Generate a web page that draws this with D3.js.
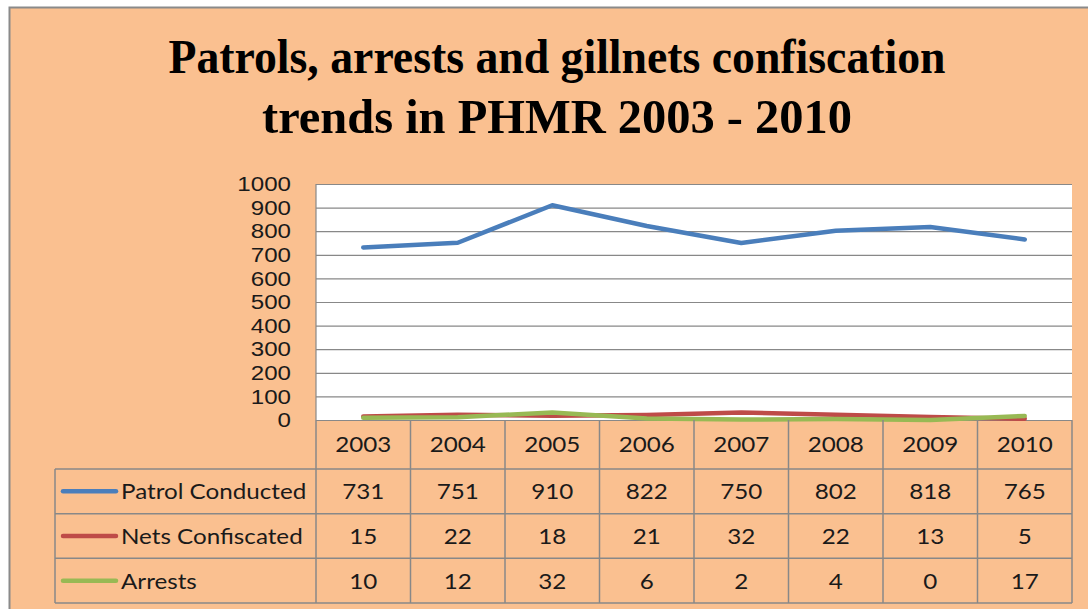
<!DOCTYPE html>
<html lang="en">
<head>
	<meta charset="utf-8">
	<title>Patrols, arrests and gillnets confiscation trends in PHMR 2003 - 2010</title>
	<script src="https://d3js.org/d3.v7.min.js"></script>
	<style>
		html, body {
			margin: 0;
			padding: 0;
			background: #fff;
		}
		svg text {
			font-family: "Lato", sans-serif;
			fill: #1a1a1a;
		}
		.title {
			font-family: "Liberation Serif", serif !important;
			font-weight: bold;
			fill: #000;
		}
	</style>
</head>
<body>
	<svg></svg>
	<script>
		// data
		var years = ["2003", "2004", "2005", "2006", "2007", "2008", "2009", "2010"];
		var patrol = [731, 751, 910, 822, 750, 802, 818, 765];
		var nets = [15, 22, 18, 21, 32, 22, 13, 5];
		var arrests = [10, 12, 32, 6, 2, 4, 0, 17];
		var seriesNames = ["Patrol Conducted", "Nets Confiscated", "Arrests"];
		var seriesColors = ["#4a7ebb", "#be4b48", "#98b954"];
		var yTicks = [0, 100, 200, 300, 400, 500, 600, 700, 800, 900, 1000];

		var width = 1088,
			height = 609;

		var svg = d3.select("svg")
			.attr("width", width)
			.attr("height", height);

		var plot = { left: 316, right: 1072, top: 184, bottom: 420 };
		var tableLeft = 55;
		var gridColor = "#888";
		var stretch = "scale(1.1,1)"; // the original text is a bit wide

		// chart box
		svg.append("rect")
			.attr("x", 9.5)
			.attr("y", 7.5)
			.attr("width", 1100)
			.attr("height", 620)
			.attr("fill", "#fac090")
			.attr("stroke", "#8a8a8a")
			.attr("stroke-width", 2);

		// title
		var title = svg.append("g");
		title.append("text")
			.attr("class", "title")
			.attr("x", 557)
			.attr("y", 73)
			.attr("text-anchor", "middle")
			.attr("font-size", 49)
			.attr("textLength", 777)
			.attr("lengthAdjust", "spacingAndGlyphs")
			.text("Patrols, arrests and gillnets confiscation");
		title.append("text")
			.attr("class", "title")
			.attr("x", 557)
			.attr("y", 133)
			.attr("text-anchor", "middle")
			.attr("font-size", 49)
			.attr("textLength", 590)
			.attr("lengthAdjust", "spacingAndGlyphs")
			.text("trends in PHMR 2003 - 2010");

		var x = d3.scaleBand()
			.domain(years)
			.range([plot.left, plot.right]);

		var y = d3.scaleLinear()
			.domain([0, 1000])
			.range([plot.bottom, plot.top]);

		// plot area
		svg.append("rect")
			.attr("x", plot.left)
			.attr("y", plot.top)
			.attr("width", plot.right - plot.left)
			.attr("height", plot.bottom - plot.top)
			.attr("fill", "#fff");

		// gridlines
		svg.append("g")
			.attr("transform", "translate(" + plot.left + ",0)")
			.call(d3.axisRight(y).tickValues(yTicks).tickSize(plot.right - plot.left).tickFormat(""))
			.call(function(g) { g.select(".domain").remove(); })
			.selectAll("line")
			.attr("stroke", gridColor)
			.attr("stroke-width", 1.2);

		svg.append("line")
			.attr("x1", plot.left).attr("x2", plot.left)
			.attr("y1", plot.top).attr("y2", plot.bottom)
			.attr("stroke", gridColor)
			.attr("stroke-width", 1.2);

		// y labels
		var yAxis = svg.append("g")
			.attr("transform", "translate(291,0)")
			.call(d3.axisLeft(y).tickValues(yTicks).tickSize(0).tickPadding(0).tickFormat(d3.format("d")));
		yAxis.select(".domain").remove();
		yAxis.selectAll("text")
			.attr("font-size", 21)
			.attr("fill", "#1a1a1a")
			.attr("transform", "scale(1.15,1)")
			.style("font-family", "'Liberation Sans', sans-serif");

		// lines
		var allSeries = [patrol, nets, arrests];
		var line = d3.line()
			.x(function(d, i) { return x(years[i]) + x.bandwidth() / 2; })
			.y(function(d) { return y(d); });

		svg.append("g")
			.selectAll("path")
			.data(allSeries)
			.enter().append("path")
			.attr("d", line)
			.attr("fill", "none")
			.attr("stroke", function(d, i) { return seriesColors[i]; })
			.attr("stroke-width", 4.5)
			.attr("stroke-linejoin", "round")
			.attr("stroke-linecap", "round");

		// data table
		var table = svg.append("g");
		var headerBottom = 469;
		var tableBottom = 603;

		function rowTop(r) {
			return headerBottom + r * (tableBottom - headerBottom) / 3;
		}

		// horizontal lines
		[0, 1, 2, 3].forEach(function(r) {
			table.append("line")
				.attr("x1", tableLeft).attr("x2", plot.right)
				.attr("y1", rowTop(r)).attr("y2", rowTop(r));
		});
		// vertical lines
		table.append("line")
			.attr("x1", tableLeft).attr("x2", tableLeft)
			.attr("y1", headerBottom).attr("y2", tableBottom);
		years.forEach(function(yr) {
			table.append("line")
				.attr("x1", x(yr)).attr("x2", x(yr))
				.attr("y1", plot.bottom).attr("y2", tableBottom);
		});
		table.append("line")
			.attr("x1", plot.right).attr("x2", plot.right)
			.attr("y1", plot.bottom).attr("y2", tableBottom);
		table.selectAll("line")
			.attr("stroke", gridColor)
			.attr("stroke-width", 1.5);

		function cellText(g, tx, ty, str, anchor) {
			g.append("text")
				.attr("transform", "translate(" + tx + "," + ty + ") " + stretch)
				.attr("dy", "0.36em")
				.attr("text-anchor", anchor)
				.attr("font-size", 22)
				.text(str);
		}

		// header years
		years.forEach(function(yr) {
			cellText(table, x(yr) + x.bandwidth() / 2, (plot.bottom + headerBottom) / 2, yr, "middle");
		});

		// rows with legend keys
		allSeries.forEach(function(vals, r) {
			var cy = (rowTop(r) + rowTop(r + 1)) / 2;
			table.append("line")
				.attr("x1", 63).attr("x2", 116)
				.attr("y1", cy).attr("y2", cy)
				.attr("stroke", seriesColors[r])
				.attr("stroke-width", 4.5)
				.attr("stroke-linecap", "round");
			cellText(table, 121, cy, seriesNames[r], "start");
			vals.forEach(function(v, i) {
				cellText(table, x(years[i]) + x.bandwidth() / 2, cy, v, "middle");
			});
		});
	</script>
</body>
</html>
